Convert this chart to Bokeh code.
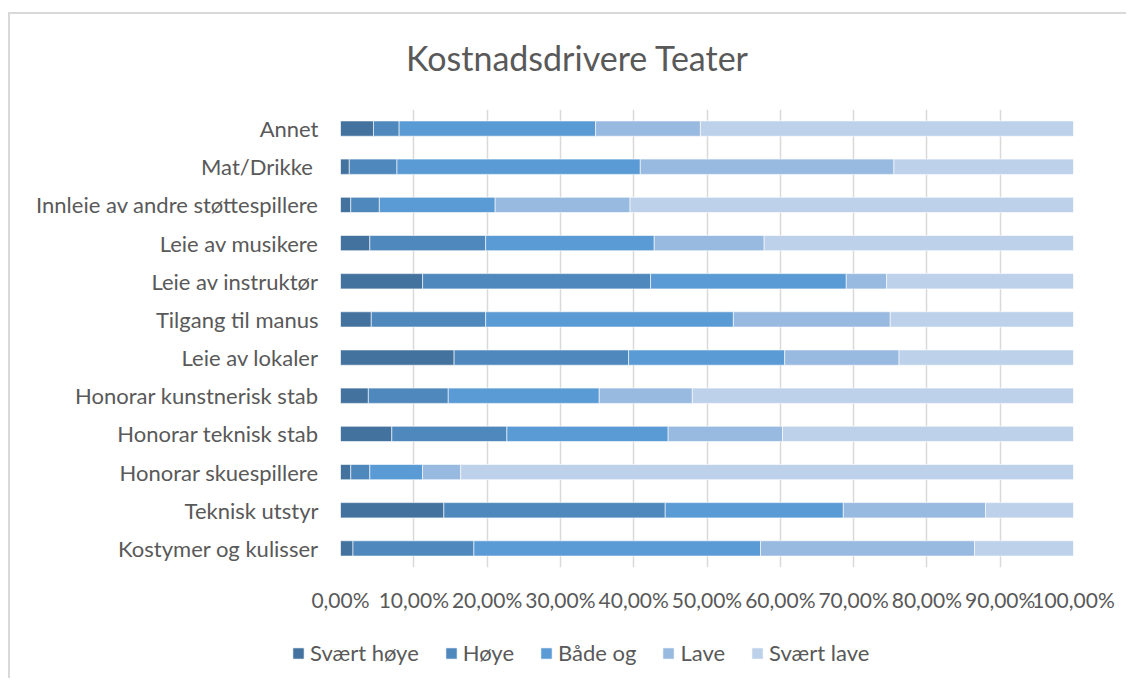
from bokeh.plotting import figure
from bokeh.models import Range1d, FactorRange, FixedTicker, Legend, LegendItem, ColumnDataSource
from bokeh.core.properties import value
from bokeh.embed import file_html
from bokeh.resources import INLINE

# ---- data (top of chart first) ----
categories = [
    "Annet",
    "Mat/Drikke ",
    "Innleie av andre støttespillere",
    "Leie av musikere",
    "Leie av instruktør",
    "Tilgang til manus",
    "Leie av lokaler",
    "Honorar kunstnerisk stab",
    "Honorar teknisk stab",
    "Honorar skuespillere",
    "Teknisk utstyr",
    "Kostymer og kulisser",
]
series_names = ["Svært høye", "Høye", "Både og", "Lave", "Svært lave"]
svaert_hoye = [4.5, 1.2, 1.4, 4.0, 11.2, 4.2, 15.5, 3.8, 7.0, 1.4, 14.1, 1.7]
hoye        = [3.5, 6.5, 3.9, 15.8, 31.1, 15.6, 23.8, 10.9, 15.7, 2.6, 30.2, 16.5]
baade_og    = [26.8, 33.2, 15.8, 23.0, 26.7, 33.8, 21.3, 20.6, 22.0, 7.2, 24.3, 39.1]
lave        = [14.3, 34.6, 18.4, 15.0, 5.5, 21.4, 15.6, 12.7, 15.6, 5.2, 19.4, 29.2]
svaert_lave = [50.9, 24.5, 60.5, 42.2, 25.5, 25.0, 23.8, 52.0, 39.7, 83.6, 12.0, 13.5]
tick_values = [0, 10, 20, 30, 40, 50, 60, 70, 80, 90, 100]
tick_labels = ["0,00%", "10,00%", "20,00%", "30,00%", "40,00%", "50,00%",
               "60,00%", "70,00%", "80,00%", "90,00%", "100,00%"]
colors = ["#43729E", "#4F88BD", "#5B9BD5", "#98B9E0", "#BDD1EA"]
title_text = "Kostnadsdrivere Teater"

FONT = "Lato"
TXT = "#595959"
BORDER = "2px solid #d9d9d9"
W = 1118


def strip(height):
    f = figure(width=W, height=height, output_backend="svg", toolbar_location=None,
               x_range=Range1d(0, W), y_range=Range1d(0, height),
               x_axis_location=None, y_axis_location=None,
               min_border_left=0, min_border_right=0, min_border_top=0, min_border_bottom=0)
    f.outline_line_color = None
    f.grid.visible = False
    f.background_fill_color = "white"
    f.border_fill_color = "white"
    return f


# ---- title strip ----
TH = 84
p0 = strip(TH)
p0.styles = {"border-left": BORDER, "border-top": BORDER}
p0.margin = (12, 0, 0, 8)
p0.text(x=[567], y=[TH - 43], text=[title_text], text_align="center", text_baseline="middle",
        text_font=value(FONT), text_font_size="34px", text_color=TXT)

# ---- main chart ----
cats_bottom_up = list(reversed(categories))
keys = ["s1", "s2", "s3", "s4", "s5"]
data = {"cat": cats_bottom_up}
for k, arr in zip(keys, [svaert_hoye, hoye, baade_og, lave, svaert_lave]):
    data[k] = list(reversed(arr))
source = ColumnDataSource(data)

top_border = 97 - TH
p = figure(width=W, height=top_border + 458 + 61, output_backend="svg", toolbar_location=None,
           x_range=Range1d(0, 100), y_range=FactorRange(*cats_bottom_up),
           min_border_left=330, min_border_right=55, min_border_top=top_border, min_border_bottom=61)
p.styles = {"border-left": BORDER}
p.margin = (0, 0, 0, 8)
p.outline_line_color = None
p.background_fill_color = "white"
p.border_fill_color = "white"

p.hbar_stack(keys, y="cat", height=0.4, color=colors, source=source,
             line_color="white", line_width=0.6)

p.xaxis.ticker = FixedTicker(ticks=tick_values)
p.xaxis.major_label_overrides = {v: l for v, l in zip(tick_values, tick_labels)}
for ax in (p.xaxis[0], p.yaxis[0]):
    ax.axis_line_color = None
    ax.major_tick_line_color = None
    ax.minor_tick_line_color = None
    ax.major_label_text_font = FONT
    ax.major_label_text_color = TXT
p.xaxis.major_label_text_font_size = "21px"
p.yaxis.major_label_text_font_size = "22px"
p.xaxis.major_label_standoff = 13
p.yaxis.major_label_standoff = 16

p.xgrid.grid_line_color = "#d9d9d9"
p.xgrid.grid_line_width = 1.5
p.ygrid.grid_line_color = None

# ---- legend strip ----
p2 = strip(50)
p2.styles = {"border-left": BORDER}
p2.margin = (0, 0, 0, 8)
items = []
for name, col in zip(series_names, colors):
    r = p2.rect(x=[-100], y=[-100], width=1, height=1, fill_color=col,
                line_color="white", line_width=0.6)
    items.append(LegendItem(label=name, renderers=[r]))
legend = Legend(items=items, orientation="horizontal", location=(281, 12),
                glyph_width=14, glyph_height=14, label_standoff=5, spacing=25,
                padding=0, margin=0, border_line_color=None, background_fill_alpha=0,
                label_text_font=FONT, label_text_font_size="22px", label_text_color=TXT)
p2.add_layout(legend, "center")

open("out.html", "w").write(file_html([p0, p, p2], INLINE))
